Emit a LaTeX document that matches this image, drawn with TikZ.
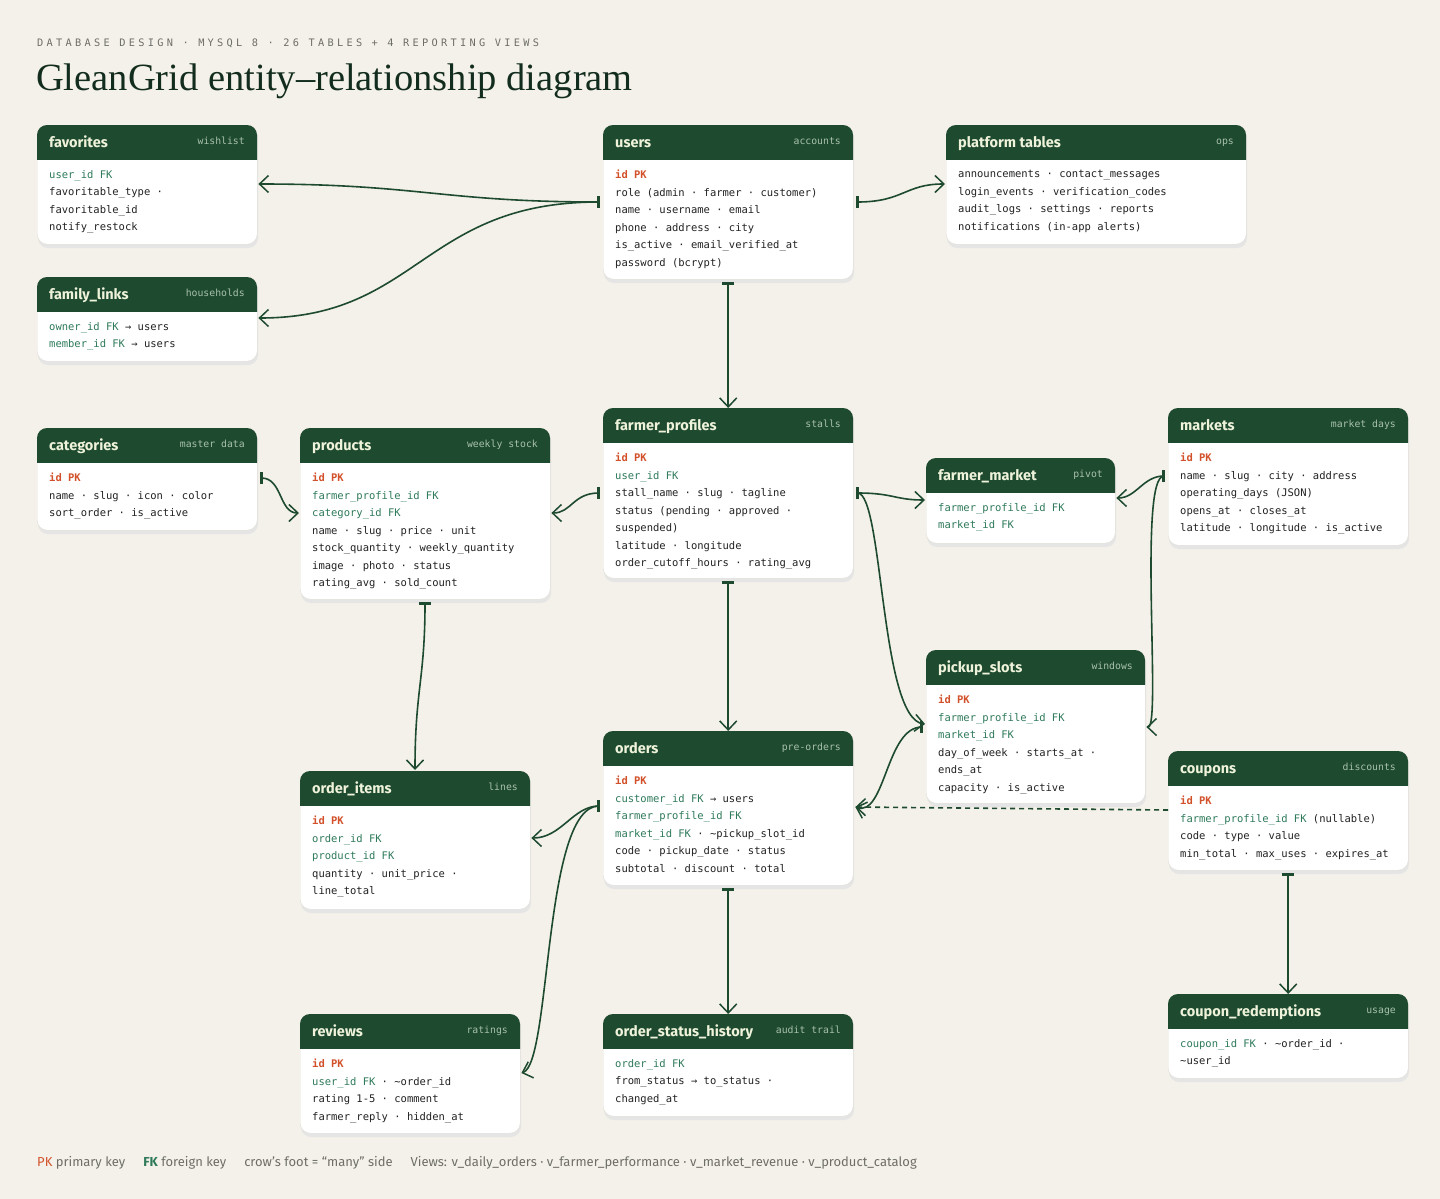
\documentclass[tikz,border=0pt]{standalone}
\usepackage{fontspec}
\setmainfont{Liberation Serif}
\setsansfont{Fira Sans}
\setmonofont{DejaVu Sans Mono}
\usetikzlibrary{arrows.meta,calc}
\definecolor{bg}{HTML}{F4F1EA}
\definecolor{hdr}{HTML}{1E4A30}
\definecolor{hdrtxt}{HTML}{EEF3DA}
\definecolor{badge}{HTML}{A9C2AC}
\definecolor{pk}{HTML}{D2512A}
\definecolor{fk}{HTML}{2E7A5A}
\definecolor{body}{HTML}{222222}
\definecolor{sub}{HTML}{6E6E68}
\definecolor{ln}{HTML}{1E4A30}
\definecolor{edge}{HTML}{E2DED4}
\newcommand\PK[1]{\textcolor{pk}{\bfseries #1}}
\newcommand\FK[1]{\textcolor{fk}{#1}}
\newcommand\ertbl[8]{%
  \fill[black!10,rounded corners=10pt] (#2+1,#3+3) rectangle (#2+#4+1,#3+#5+4);
  \node[draw=edge,fill=white,rounded corners=10pt,minimum width=#4pt,minimum height=#5pt,anchor=north west,inner sep=0pt] (#1) at (#2,#3) {};
  \begin{scope}
    \clip (#2-1,#3-1) rectangle (#2+#4+1,#3+34);
    \fill[hdr,rounded corners=10pt] (#2,#3) rectangle (#2+#4,#3+#5);
  \end{scope}
  \node[anchor=base west,font=\sffamily\bfseries\fontsize{14.5}{16}\selectfont,text=hdrtxt,inner sep=0pt] (#1-t) at (#2+12,#3+22) {#6};
  \node[anchor=base east,font=\ttfamily\fontsize{9.8}{11}\selectfont,text=badge,inner sep=0pt] (#1-b) at (#2+#4-12,#3+19) {#7};
  \node[anchor=north west,align=left,inner sep=0pt,font=\ttfamily\fontsize{10.5}{17.5}\selectfont,text=body] (#1-r) at (#2+12,#3+45) {#8};
}
\tikzset{
  one/.tip={Bar[width=12pt,line width=1.4pt]Bar[width=12pt,line width=1.4pt,sep=3pt]},
  rel/.style={draw=ln,line width=1.6pt,{one}-{Straight Barb[length=9pt,width=17pt,line width=1.5pt]}},
  many/.style={draw=ln,line width=1.6pt,-{Straight Barb[length=9pt,width=17pt,line width=1.5pt]}},
}
\begin{document}
\begin{tikzpicture}[x=1pt,y=-1pt]
\fill[bg] (0,0) rectangle (1440,1199);
\useasboundingbox (0,0) rectangle (1440,1199);
\node[anchor=base west,inner sep=0pt,font=\ttfamily\fontsize{10.3}{12}\selectfont\addfontfeatures{LetterSpace=32},text=sub] (subt) at (37,47) {DATABASE DESIGN · MYSQL 8 · 26 TABLES + 4 REPORTING VIEWS};
\node[anchor=base west,inner sep=0pt,font=\fontsize{38.5}{42}\selectfont,text=hdr!60!black] (title) at (36,90) {GleanGrid entity–relationship diagram};

\ertbl{fav}{37}{125}{220}{119}{favorites}{wishlist}{\FK{user\_id FK}\\favoritable\_type ·\\favoritable\_id\\notify\_restock}
\ertbl{fam}{37}{277}{220}{84}{family\_links}{households}{\FK{owner\_id FK} → users\\\FK{member\_id FK} → users}
\ertbl{users}{603}{125}{250}{154}{users}{accounts}{\PK{id PK}\\role (admin · farmer · customer)\\name · username · email\\phone · address · city\\is\_active · email\_verified\_at\\password (bcrypt)}
\ertbl{plat}{946}{125}{300}{119}{platform tables}{ops}{announcements · contact\_messages\\login\_events · verification\_codes\\audit\_logs · settings · reports\\notifications (in-app alerts)}
\ertbl{cat}{37}{428}{220}{102}{categories}{master data}{\PK{id PK}\\name · slug · icon · color\\sort\_order · is\_active}
\ertbl{prod}{300}{428}{250}{171}{products}{weekly stock}{\PK{id PK}\\\FK{farmer\_profile\_id FK}\\\FK{category\_id FK}\\name · slug · price · unit\\stock\_quantity · weekly\_quantity\\image · photo · status\\rating\_avg · sold\_count}
\ertbl{fp}{603}{408}{250}{170}{farmer\_profiles}{stalls}{\PK{id PK}\\\FK{user\_id FK}\\stall\_name · slug · tagline\\status (pending · approved ·\\suspended)\\latitude · longitude\\order\_cutoff\_hours · rating\_avg}
\ertbl{fm}{926}{458}{189}{85}{farmer\_market}{pivot}{\FK{farmer\_profile\_id FK}\\\FK{market\_id FK}}
\ertbl{mk}{1168}{408}{240}{137}{markets}{market days}{\PK{id PK}\\name · slug · city · address\\operating\_days (JSON)\\opens\_at · closes\_at\\latitude · longitude · is\_active}
\ertbl{ps}{926}{650}{219}{153}{pickup\_slots}{windows}{\PK{id PK}\\\FK{farmer\_profile\_id FK}\\\FK{market\_id FK}\\day\_of\_week · starts\_at ·\\ends\_at\\capacity · is\_active}
\ertbl{ord}{603}{731}{250}{154}{orders}{pre-orders}{\PK{id PK}\\\FK{customer\_id FK} → users\\\FK{farmer\_profile\_id FK}\\\FK{market\_id FK} · \textasciitilde pickup\_slot\_id\\code · pickup\_date · status\\subtotal · discount · total}
\ertbl{cp}{1168}{751}{240}{119}{coupons}{discounts}{\PK{id PK}\\\FK{farmer\_profile\_id FK} (nullable)\\code · type · value\\min\_total · max\_uses · expires\_at}
\ertbl{oi}{300}{771}{230}{138}{order\_items}{lines}{\PK{id PK}\\\FK{order\_id FK}\\\FK{product\_id FK}\\quantity · unit\_price ·\\line\_total}
\ertbl{rv}{300}{1014}{220}{119}{reviews}{ratings}{\PK{id PK}\\\FK{user\_id FK} · \textasciitilde order\_id\\rating 1-5 · comment\\farmer\_reply · hidden\_at}
\ertbl{osh}{603}{1014}{250}{102}{order\_status\_history}{audit trail}{\FK{order\_id FK}\\from\_status → to\_status ·\\changed\_at}
\ertbl{cr}{1168}{994}{240}{84}{coupon\_redemptions}{usage}{\FK{coupon\_id FK} · \textasciitilde order\_id ·\\\textasciitilde user\_id}

% connectors
\draw[rel] ($(users.north west)+(0,77)$) .. controls +(-160,0) and +(160,0) .. ($(fav.north east)+(1,59)$);
\draw[rel] ($(users.north west)+(0,77)$) .. controls +(-180,0) and +(160,0) .. ($(fam.north east)+(1,41)$);
\draw[rel] ($(users.north east)+(0,77)$) .. controls +(50,0) and +(-40,0) .. ($(plat.north west)+(-1,59)$);
\draw[rel] (users.south) -- (fp.north);
\draw[rel] ($(fp.north west)+(0,85)$) .. controls +(-30,0) and +(20,0) .. ($(prod.north east)+(1,85)$);
\draw[rel] ($(cat.north east)+(0,50)$) .. controls +(25,0) and +(-20,0) .. ($(prod.north west)+(-1,85)$);
\draw[rel] ($(fp.north east)+(0,85)$) .. controls +(40,0) and +(-30,0) .. ($(fm.north west)+(-1,42)$);
\draw[rel] ($(mk.north west)+(0,68)$) .. controls +(-25,0) and +(20,0) .. ($(fm.north east)+(1,40)$);
\draw[rel] ($(fp.north east)+(0,85)$) .. controls +(30,0) and +(-45,-5) .. ($(ps.north west)+(-1,74)$);
\draw[rel] ($(mk.north west)+(0,68)$) .. controls +(-30,0) and +(15,0) .. ($(ps.north east)+(1,77)$);
\draw[rel] (fp.south) -- (ord.north);
\draw[rel] ($(prod.south west)+(125,0)$) .. controls +(0,80) and +(0,-80) .. ($(oi.north west)+(115,-1)$);
\draw[rel] ($(ord.north west)+(0,75)$) .. controls +(-30,0) and +(30,0) .. ($(oi.north east)+(1,67)$);
\draw[rel] ($(ord.north west)+(0,75)$) .. controls +(-60,0) and +(30,-10) .. ($(rv.north east)+(1,59)$);
\draw[rel] ($(ps.north west)+(0,77)$) .. controls +(-40,0) and +(30,10) .. ($(ord.north east)+(2,76)$);
\draw[many,dash pattern=on 5pt off 4pt] ($(cp.north west)+(0,59)$) -- ($(ord.north east)+(2,76)$);
\draw[rel] (ord.south) -- (osh.north);
\draw[rel] (cp.south) -- (cr.north);

\node[anchor=base west,inner sep=0pt,font=\sffamily\fontsize{13}{15}\selectfont,text=sub] (legend) at (37,1166)
 {\textcolor{pk}{PK} primary key\hspace{18pt}\textcolor{fk}{\bfseries FK} foreign key\hspace{18pt}crow’s foot = “many” side\hspace{18pt}Views: v\_daily\_orders · v\_farmer\_performance · v\_market\_revenue · v\_product\_catalog};
\end{tikzpicture}
\end{document}
